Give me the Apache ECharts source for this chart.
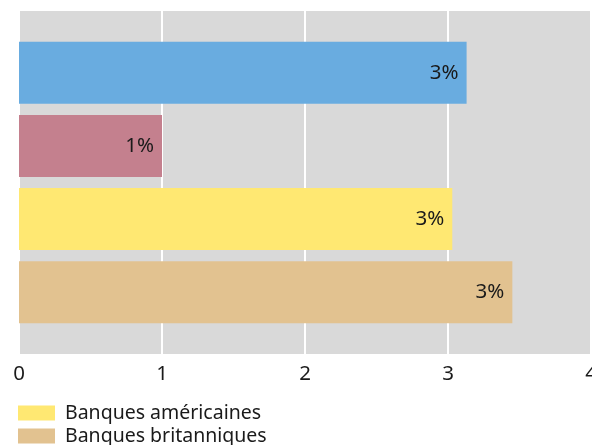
<!DOCTYPE html>
<html><head><meta charset="utf-8">
<script src="https://cdn.jsdelivr.net/npm/echarts@6/dist/echarts.min.js"></script>
<style>html,body{margin:0;padding:0;background:#fff}#c{width:592px;height:445px}</style>
</head><body><div id="c"></div>
<script>
var seriesNames = ['Série bleue', 'Série rose', 'Banques américaines', 'Banques britanniques'];
var seriesValues = [3.13, 1.0, 3.03, 3.45];
var seriesColors = ['#69ace0', '#c4808e', '#ffe872', '#e2c290'];
var legendNames = ['Banques américaines', 'Banques britanniques'];
var categories = [''];
var xTicks = [0, 1, 2, 3, 4];

var font = '"Noto Sans", sans-serif';
var chart = echarts.init(document.getElementById('c'), null, {renderer: 'canvas'});
var series = seriesNames.map(function (n, i) {
  return {
    name: n, type: 'bar', data: [seriesValues[i]],
    itemStyle: {color: seriesColors[i]},
    barGap: '18%', barCategoryGap: '18%',
    label: {show: true, position: 'insideRight', distance: 8, color: '#1a1a1a',
      fontSize: 20.5, fontFamily: font,
      formatter: function (p) { return Math.round(p.value) + '%'; }}
  };
});
chart.setOption({
  animation: false,
  grid: {left: 19, right: 1, top: 11, bottom: 91, show: true, backgroundColor: '#d9d9d9', borderWidth: 0,
    outerBoundsMode: 'none', containLabel: false},
  legend: {data: legendNames, orient: 'vertical', left: 18, top: 403, height: 200, padding: 0,
    itemWidth: 37, itemHeight: 15, itemGap: 3,
    icon: 'rect', textStyle: {fontSize: 19.5, fontFamily: font, color: '#1a1a1a', padding: [0, 0, 0, 5]}},
  xAxis: {type: 'value', min: xTicks[0], max: xTicks[xTicks.length - 1], interval: 1,
    axisLine: {show: false}, axisTick: {show: false},
    splitLine: {show: true, lineStyle: {color: '#ffffff', width: 2}},
    axisLabel: {fontSize: 20.5, fontFamily: font, color: '#1a1a1a', margin: 10}},
  yAxis: {type: 'category', data: categories, inverse: true,
    axisLine: {show: false}, axisTick: {show: false}, axisLabel: {show: false}, splitLine: {show: false}},
  series: series
});
</script></body></html>
